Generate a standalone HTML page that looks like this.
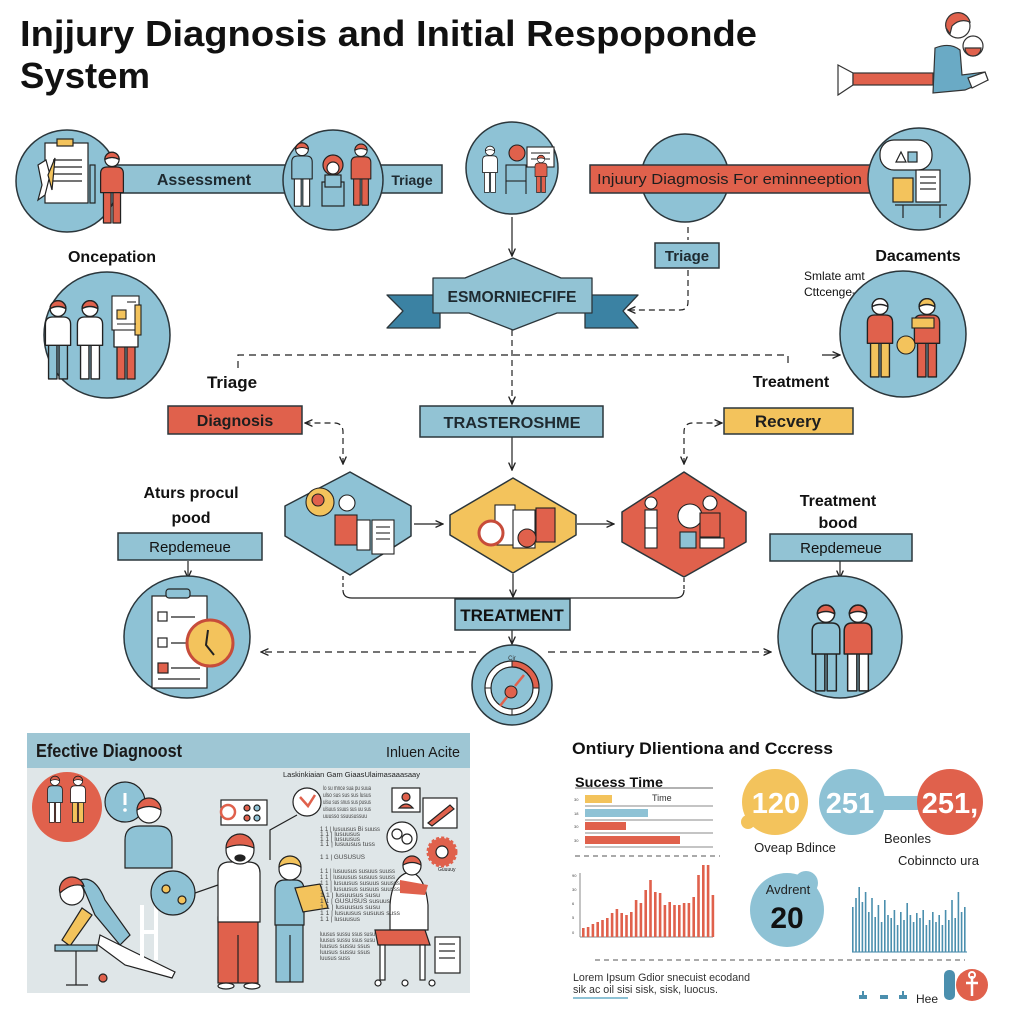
<!DOCTYPE html>
<html><head><meta charset="utf-8">
<style>
html,body{margin:0;padding:0;background:#fff}
svg{display:block}
text{font-family:"Liberation Sans",sans-serif}
.b{font-weight:bold}
.person .sh{fill:var(--shirt,#fff)}
.person .pa{fill:var(--pants,#8ec2d5)}
.person .hr{fill:var(--hair,#e0614c)}
</style></head>
<body>
<svg width="1024" height="1024" viewBox="0 0 1024 1024" xmlns="http://www.w3.org/2000/svg">
<defs>
<marker id="ah" viewBox="0 0 10 10" refX="9" refY="5" markerWidth="7" markerHeight="7" orient="auto-start-reverse"><path d="M0,1 L9,5 L0,9" fill="none" stroke="#222" stroke-width="1.6"/></marker>
<g id="person" class="person" stroke="#222" stroke-width="1.3" stroke-linejoin="round">
 <rect class="pa" x="-9" y="-36" width="8" height="35"/>
 <rect class="pa" x="1" y="-36" width="8" height="35"/>
 <path class="sh" d="M-12,-33 L-12,-53 Q-12,-60 -5,-60 L5,-60 Q12,-60 12,-53 L12,-33 Z"/>
 <circle cx="0" cy="-68" r="7.5" fill="#fff"/>
 <path class="hr" d="M-7.5,-68 A7.5,7.5 0 0 1 7.5,-68 Q0,-72 -7.5,-68Z"/>
</g>
</defs>

<!-- TITLE -->
<text x="20" y="46" font-size="36" class="b" fill="#111" textLength="737" lengthAdjust="spacingAndGlyphs">Injjury Diagnosis and Initial Respoponde</text>
<text x="20" y="88" font-size="36" class="b" fill="#111" textLength="130" lengthAdjust="spacingAndGlyphs">System</text>

<!-- top right icon -->
<g stroke="#333" stroke-width="1.2">
<path d="M838,65 L853,73 L853,85 L838,95 Z" fill="#fff"/>
<rect x="853" y="73" width="80" height="12" fill="#e0614c"/>
<path d="M935,48 Q950,42 960,50 L962,75 L985,72 L988,80 L965,90 L933,93 Z" fill="#6aaac5"/>
<circle cx="958" cy="26" r="12" fill="#fff"/>
<path d="M946,28 A12,12 0 0 1 970,22 Q960,18 952,26 L950,34 Z" fill="#e0614c"/>
<circle cx="973" cy="46" r="10" fill="#fff"/>
<path d="M965,48 A8,8 0 0 0 981,48 Z" fill="#e0614c"/>
<path d="M968,78 L985,72 L988,80 L972,88 Z" fill="#fff"/>
</g>

<!-- ROW 1 bars -->
<g stroke="#2b363b" stroke-width="1.5">
<rect x="113" y="165" width="175" height="28" fill="#92c3d4"/>
<rect x="380" y="165" width="62" height="28" fill="#92c3d4"/>
<circle cx="67" cy="181" r="51" fill="#8ec2d5"/>
<circle cx="333" cy="180" r="50" fill="#8ec2d5"/>
<circle cx="512" cy="168" r="46" fill="#8ec2d5"/>
<circle cx="685" cy="178" r="44" fill="#8ec2d5"/>
<rect x="590" y="165" width="280" height="28" fill="#e0614c"/>
<circle cx="919" cy="179" r="51" fill="#8ec2d5"/>
</g>
<text x="204" y="185" font-size="16" class="b" fill="#1e2a30" text-anchor="middle">Assessment</text>
<text x="412" y="185" font-size="14" class="b" fill="#1e2a30" text-anchor="middle">Triage</text>
<text x="597" y="184" font-size="15" fill="#1e1e1e" textLength="265" lengthAdjust="spacingAndGlyphs">Injuury Diagmosis  For eminneeption</text>

<!-- circle 1 icons -->
<g stroke="#222" stroke-width="1.2">
<rect x="45" y="143" width="43" height="60" fill="#fff"/>
<rect x="57" y="139" width="16" height="7" fill="#f3c35c"/>
<line x1="53" y1="160" x2="82" y2="160"/><line x1="53" y1="167" x2="82" y2="167"/><line x1="53" y1="174" x2="82" y2="174"/><line x1="53" y1="181" x2="82" y2="181"/>
<rect x="90" y="165" width="5" height="38" fill="#8ec2d5"/>
<path d="M38,165 L46,160 L50,175 L45,195 L38,200 L42,185 Z" fill="#fff"/>
<path d="M48,175 L55,158 L52,190 Z" fill="#f3c35c"/>
</g>
<use href="#person" transform="translate(112,224) scale(0.95)" style="--shirt:#e0614c;--pants:#e0614c"/>

<!-- circle 2 -->
<use href="#person" transform="translate(302,207) scale(0.85)" style="--shirt:#8ec2d5;--pants:#fff"/>
<g stroke="#222" stroke-width="1.2">
<rect x="322" y="182" width="22" height="24" fill="#8ec2d5"/>
<circle cx="333" cy="165" r="10" fill="#e0614c"/>
<circle cx="333" cy="168" r="6" fill="#fff"/>
<rect x="325" y="175" width="16" height="12" fill="#8ec2d5"/>
</g>
<use href="#person" transform="translate(361,206) scale(0.82)" style="--shirt:#e0614c;--pants:#e0614c"/>

<!-- circle 3 -->
<use href="#person" transform="translate(490,193) scale(0.62)" style="--shirt:#fff;--pants:#fff;--hair:#fff"/>
<g stroke="#222" stroke-width="1.1">
<circle cx="517" cy="153" r="8" fill="#e0614c"/>
<rect x="506" y="165" width="20" height="16" fill="#8ec2d5"/>
<line x1="506" y1="181" x2="506" y2="194"/><line x1="526" y1="181" x2="526" y2="194"/>
<rect x="527" y="147" width="27" height="20" fill="#fff"/>
<line x1="531" y1="153" x2="550" y2="153"/><line x1="531" y1="159" x2="550" y2="159"/>
</g>
<use href="#person" transform="translate(541,193) scale(0.5)" style="--shirt:#e0614c;--pants:#e0614c"/>

<!-- circle right (919) -->
<g stroke="#222" stroke-width="1.2">
<rect x="880" y="140" width="52" height="30" rx="14" fill="#fff"/>
<path d="M896,162 L901,152 L906,162Z" fill="#fff"/>
<rect x="908" y="152" width="9" height="10" fill="#8ec2d5"/>
<rect x="893" y="178" width="20" height="24" fill="#f3c35c"/>
<rect x="916" y="170" width="24" height="32" fill="#fff"/>
<line x1="920" y1="177" x2="936" y2="177"/><line x1="920" y1="183" x2="936" y2="183"/><line x1="920" y1="189" x2="936" y2="189"/>
<line x1="895" y1="205" x2="947" y2="205"/>
<line x1="903" y1="205" x2="903" y2="218"/><line x1="940" y1="205" x2="940" y2="218"/>
</g>

<!-- connectors top -->
<g stroke="#222" stroke-width="1.2" fill="none">
<line x1="512" y1="217" x2="512" y2="256" marker-end="url(#ah)"/>
<line x1="688" y1="227" x2="688" y2="240" stroke-dasharray="6,4"/>
<path d="M688,270 L688,302 Q688,310 680,310 L628,310" stroke-dasharray="6,4" marker-end="url(#ah)"/>
<line x1="512" y1="330" x2="512" y2="404" stroke-dasharray="6,4" marker-end="url(#ah)"/>
<path d="M238,368 L238,355 L788,355 L788,367" stroke-dasharray="7,5"/>
<line x1="822" y1="355" x2="840" y2="355" marker-end="url(#ah)"/>
<line x1="512" y1="437" x2="512" y2="470" marker-end="url(#ah)"/>
<path d="M343,464 L343,432 Q343,423 334,423 L305,423" stroke-dasharray="6,4" marker-start="url(#ah)" marker-end="url(#ah)"/>
<path d="M684,464 L684,432 Q684,423 693,423 L722,423" stroke-dasharray="6,4" marker-start="url(#ah)" marker-end="url(#ah)"/>
</g>

<!-- Triage box -->
<rect x="655" y="243" width="64" height="25" fill="#8ec2d5" stroke="#2b363b" stroke-width="1.5"/>
<text x="687" y="261" font-size="15" class="b" fill="#1e2a30" text-anchor="middle">Triage</text>

<!-- labels -->
<text x="112" y="262" font-size="16" class="b" fill="#111" text-anchor="middle">Oncepation</text>
<text x="918" y="261" font-size="16" class="b" fill="#111" text-anchor="middle">Dacaments</text>
<text x="804" y="280" font-size="12" fill="#111">Smlate amt</text>
<text x="804" y="296" font-size="12" fill="#111">Cttcenge-</text>
<text x="232" y="388" font-size="17" class="b" fill="#111" text-anchor="middle">Triage</text>
<text x="791" y="387" font-size="16" class="b" fill="#111" text-anchor="middle">Treatment</text>

<!-- Ribbon -->
<g stroke="#2b363b" stroke-width="1.3" stroke-linejoin="round">
<path d="M387,295 L440,295 L440,328 L387,328 L403,311 Z" fill="#3b82a3"/>
<path d="M585,295 L638,295 L623,311 L638,328 L585,328 Z" fill="#3b82a3"/>
<path d="M433,278 L465,278 L513,258 L561,278 L592,278 L592,313 L557,313 L513,330 L469,313 L433,313 Z" fill="#92c3d4"/>
</g>
<text x="512" y="302" font-size="16" class="b" fill="#1e2a30" text-anchor="middle" textLength="129" lengthAdjust="spacingAndGlyphs">ESMORNIECFIFE</text>

<!-- circle 107,335 -->
<circle cx="107" cy="335" r="63" fill="#8ec2d5" stroke="#2b363b" stroke-width="1.5"/>
<use href="#person" transform="translate(58,380) scale(1.05)" style="--shirt:#fff;--pants:#8ec2d5"/>
<use href="#person" transform="translate(90,380) scale(1.05)" style="--shirt:#fff;--pants:#fff"/>
<use href="#person" transform="translate(126,380) scale(1.0)" style="--shirt:#fff;--pants:#e0614c"/>
<g stroke="#222" stroke-width="1.1"><rect x="112" y="296" width="27" height="34" fill="#fff"/><rect x="135" y="305" width="6" height="30" fill="#f3c35c"/><rect x="117" y="310" width="9" height="9" fill="#f3c35c"/><line x1="127" y1="302" x2="136" y2="302"/><line x1="117" y1="324" x2="136" y2="324"/></g>

<!-- circle 903,334 -->
<circle cx="903" cy="334" r="63" fill="#8ec2d5" stroke="#2b363b" stroke-width="1.5"/>
<use href="#person" transform="translate(880,378) scale(1.05)" style="--shirt:#e0614c;--pants:#f3c35c;--hair:#fff"/>
<use href="#person" transform="translate(927,378) scale(1.05)" style="--shirt:#e0614c;--pants:#e0614c;--hair:#f3c35c"/>
<g stroke="#222" stroke-width="1.1"><circle cx="906" cy="345" r="9" fill="#f3c35c"/><rect x="912" y="318" width="22" height="10" fill="#f3c35c"/></g>

<!-- boxes row 2 -->
<g stroke="#2b363b" stroke-width="1.5">
<rect x="168" y="406" width="134" height="28" fill="#e0614c"/>
<rect x="420" y="406" width="183" height="31" fill="#92c3d4"/>
<rect x="724" y="408" width="129" height="26" fill="#f3c35c"/>
</g>
<text x="235" y="426" font-size="16" class="b" fill="#1e1e1e" text-anchor="middle">Diagnosis</text>
<text x="512" y="428" font-size="16" class="b" fill="#1e2a30" text-anchor="middle" textLength="137" lengthAdjust="spacingAndGlyphs">TRASTEROSHME</text>
<text x="788" y="427" font-size="17" class="b" fill="#1e1e1e" text-anchor="middle">Recvery</text>

<!-- hexes -->
<g stroke="#2b363b" stroke-width="1.5" stroke-linejoin="round">
<path d="M350,472 L411,506 L411,536 L350,575 L285,536 L285,506 Z" fill="#8ec2d5"/>
<path d="M513,478 L576,515 L576,535 L513,573 L450,535 L450,515 Z" fill="#f3c35c"/>
<path d="M684,472 L746,512 L746,542 L684,577 L622,542 L622,512 Z" fill="#e0614c"/>
</g>
<!-- hex icons -->
<g stroke="#222" stroke-width="1.1">
<circle cx="320" cy="502" r="14" fill="#f3c35c"/>
<circle cx="318" cy="500" r="6" fill="#e0614c"/>
<rect x="335" y="515" width="22" height="30" fill="#e0614c"/>
<circle cx="347" cy="503" r="8" fill="#fff"/>
<rect x="357" y="520" width="13" height="30" fill="#fff"/>
<rect x="372" y="520" width="22" height="34" fill="#fff"/>
<line x1="376" y1="527" x2="390" y2="527"/><line x1="376" y1="533" x2="390" y2="533"/><line x1="376" y1="539" x2="390" y2="539"/>
<rect x="495" y="505" width="20" height="40" fill="#fff"/>
<rect x="513" y="510" width="22" height="38" fill="#fff"/>
<rect x="536" y="508" width="19" height="34" fill="#e0614c"/>
<circle cx="491" cy="533" r="12" fill="#fff" stroke="#c74c3a" stroke-width="3"/>
<circle cx="527" cy="538" r="9" fill="#e0614c"/>
<rect x="645" y="510" width="12" height="18" fill="#fff"/>
<rect x="645" y="528" width="12" height="20" fill="#fff"/>
<circle cx="651" cy="503" r="6" fill="#fff"/>
<circle cx="690" cy="516" r="12" fill="#fff"/>
<rect x="680" y="532" width="16" height="16" fill="#8ec2d5"/>
<rect x="700" y="513" width="20" height="24" fill="#e0614c"/>
<circle cx="710" cy="503" r="7" fill="#fff"/>
<rect x="700" y="538" width="24" height="10" fill="#fff"/>
</g>

<g stroke="#222" stroke-width="1.2" fill="none">
<line x1="414" y1="524" x2="443" y2="524" marker-end="url(#ah)"/>
<line x1="577" y1="524" x2="614" y2="524" marker-end="url(#ah)"/>
<path d="M343,576 L343,590" stroke-dasharray="4,3"/>
<path d="M684,578 L684,590" stroke-dasharray="4,3"/>
<path d="M343,590 Q343,598 352,598 L675,598 Q684,598 684,590"/>
<line x1="513" y1="574" x2="513" y2="597" marker-end="url(#ah)"/>
<line x1="512" y1="630" x2="512" y2="644" marker-end="url(#ah)"/>
<line x1="476" y1="652" x2="261" y2="652" stroke-dasharray="7,5" marker-end="url(#ah)"/>
<line x1="548" y1="652" x2="771" y2="652" stroke-dasharray="7,5" marker-end="url(#ah)"/>
<line x1="188" y1="561" x2="188" y2="578" marker-end="url(#ah)"/>
<line x1="840" y1="561" x2="840" y2="578" marker-end="url(#ah)"/>
</g>

<!-- side labels -->
<text x="191" y="498" font-size="16" class="b" fill="#111" text-anchor="middle">Aturs procul</text>
<text x="191" y="523" font-size="16" class="b" fill="#111" text-anchor="middle">pood</text>
<text x="838" y="506" font-size="16" class="b" fill="#111" text-anchor="middle">Treatment</text>
<text x="838" y="528" font-size="16" class="b" fill="#111" text-anchor="middle">bood</text>
<g stroke="#2b363b" stroke-width="1.5">
<rect x="118" y="533" width="144" height="27" fill="#92c3d4"/>
<rect x="770" y="534" width="142" height="27" fill="#92c3d4"/>
<rect x="455" y="599" width="115" height="31" fill="#92c3d4"/>
</g>
<text x="190" y="552" font-size="15" fill="#111" text-anchor="middle">Repdemeue</text>
<text x="841" y="553" font-size="15" fill="#111" text-anchor="middle">Repdemeue</text>
<text x="512" y="621" font-size="17" class="b" fill="#111" text-anchor="middle">TREATMENT</text>

<!-- clipboard circle -->
<ellipse cx="187" cy="637" rx="63" ry="61" fill="#8ec2d5" stroke="#2b363b" stroke-width="1.5"/>
<g stroke="#222" stroke-width="1.2">
<rect x="152" y="596" width="55" height="92" fill="#fff"/>
<rect x="166" y="589" width="24" height="9" rx="3" fill="#8ec2d5"/>
<rect x="158" y="612" width="9" height="9" fill="#fff"/><line x1="171" y1="617" x2="195" y2="617"/>
<rect x="158" y="638" width="9" height="9" fill="#fff"/><line x1="171" y1="643" x2="195" y2="643"/>
<rect x="158" y="663" width="10" height="10" fill="#e0614c"/><line x1="171" y1="668" x2="200" y2="668"/><line x1="158" y1="679" x2="200" y2="679"/>
<circle cx="210" cy="643" r="23" fill="#f3c35c" stroke="#c74c3a" stroke-width="3"/>
<path d="M208,630 L206,645 L214,655" fill="none" stroke="#222" stroke-width="2"/>
</g>

<!-- people circle -->
<ellipse cx="840" cy="637" rx="62" ry="61" fill="#8ec2d5" stroke="#2b363b" stroke-width="1.5"/>
<use href="#person" transform="translate(826,692) scale(1.15)" style="--shirt:#8ec2d5;--pants:#8ec2d5"/>
<use href="#person" transform="translate(858,692) scale(1.15)" style="--shirt:#e0614c;--pants:#fff"/>

<!-- target circle -->
<circle cx="512" cy="685" r="40" fill="#8ec2d5" stroke="#2b363b" stroke-width="1.5"/>
<circle cx="512" cy="688" r="27" fill="#fff" stroke="#222" stroke-width="1.2"/>
<path d="M512,661 A27,27 0 0 1 539,688 L533,688 A21,21 0 0 0 512,667 Z" fill="#e0614c" stroke="#222" stroke-width="1"/>
<circle cx="512" cy="688" r="21" fill="#8ec2d5" stroke="#222" stroke-width="1.2"/>
<line x1="485" y1="688" x2="491" y2="688" stroke="#222"/><line x1="512" y1="709" x2="512" y2="715" stroke="#222"/>
<circle cx="511" cy="692" r="6" fill="#e0614c" stroke="#222"/>
<path d="M515,686 L524,675 M507,697 L500,706" stroke="#e0614c" stroke-width="2.5"/>
<text x="512" y="660" font-size="6" fill="#333" text-anchor="middle">Cir</text>

<!-- BOTTOM LEFT PANEL -->
<rect x="27" y="733" width="443" height="260" fill="#dfe6e8"/>
<rect x="27" y="733" width="443" height="35" fill="#9ec6d4"/>
<text x="36" y="757" font-size="18" class="b" fill="#1a1a1a" textLength="146" lengthAdjust="spacingAndGlyphs">Efective Diagnoost</text>
<text x="386" y="757" font-size="15" fill="#1a1a1a" textLength="74" lengthAdjust="spacingAndGlyphs">Inluen Acite</text>

<g stroke="#222" stroke-width="1.2">
<circle cx="67" cy="807" r="35" fill="#e0614c" stroke="none"/>
<use href="#person" transform="translate(55,823) scale(0.62)" style="--shirt:#8ec2d5;--pants:#fff"/>
<use href="#person" transform="translate(78,823) scale(0.62)" style="--shirt:#fff;--pants:#f3c35c"/>
<circle cx="125" cy="802" r="20" fill="#8ec2d5"/>
<line x1="125" y1="793" x2="125" y2="805" stroke="#fff" stroke-width="3"/><circle cx="125" cy="810" r="1.8" fill="#fff" stroke="none"/>
<path d="M125,868 L125,840 Q125,826 140,826 L158,826 Q172,826 172,840 L172,868 Z" fill="#8ec2d5"/>
<circle cx="149" cy="811" r="12" fill="#fff"/>
<path d="M137,810 A12,12 0 0 1 161,810 Q149,803 137,810Z" fill="#e0614c"/>
<path d="M80,880 Q95,875 105,900 L130,935 L120,945 L95,915 Z" fill="#8ec2d5"/>
<circle cx="72" cy="893" r="12" fill="#fff"/>
<path d="M60,893 A12,12 0 0 1 84,886 Q72,882 60,893Z" fill="#e0614c"/>
<path d="M82,908 L62,940 L70,946 L92,915 Z" fill="#f3c35c"/>
<rect x="55" y="945" width="42" height="6" fill="#8ec2d5"/>
<line x1="76" y1="951" x2="76" y2="985"/><line x1="66" y1="985" x2="88" y2="985"/>
<path d="M100,935 L130,950 L175,972 L172,978 L125,965 L98,945 Z" fill="#fff"/>
<circle cx="103" cy="978" r="4" fill="#e0614c"/>
<rect x="140" y="905" width="4" height="55" fill="#fff" stroke="none"/><rect x="154" y="905" width="4" height="55" fill="#fff" stroke="none"/><rect x="140" y="930" width="18" height="4" fill="#fff" stroke="none"/>
<circle cx="173" cy="893" r="22" fill="#8ec2d5"/>
<circle cx="166" cy="889" r="4" fill="#f3c35c"/><circle cx="182" cy="900" r="4" fill="#f3c35c"/>
<line x1="195" y1="893" x2="218" y2="885"/>
<rect x="218" y="917" width="40" height="66" fill="#e0614c"/>
<line x1="238" y1="935" x2="238" y2="983"/>
<path d="M218,873 Q218,862 230,862 L248,862 Q260,862 260,873 L260,922 L218,922 Z" fill="#fff"/>
<circle cx="240" cy="850" r="14" fill="#fff"/>
<path d="M226,848 A14,14 0 0 1 254,848 Q240,842 226,848Z" fill="#e0614c"/>
<ellipse cx="240" cy="858" rx="5" ry="3" fill="#222"/>
<ellipse cx="226" cy="986" rx="8" ry="3" fill="#fff"/><ellipse cx="252" cy="986" rx="8" ry="3" fill="#fff"/>
<rect x="276" y="922" width="27" height="60" fill="#8ec2d5"/>
<line x1="290" y1="935" x2="290" y2="982"/>
<path d="M275,890 Q275,880 285,880 L295,880 Q304,880 304,890 L304,925 L275,925 Z" fill="#8ec2d5"/>
<circle cx="290" cy="869" r="11" fill="#fff"/>
<path d="M279,867 A11,11 0 0 1 301,867 Q290,860 279,867Z" fill="#f3c35c"/>
<path d="M295,888 L320,884 L328,908 L303,912 Z" fill="#f3c35c"/>
<rect x="221" y="800" width="46" height="25" fill="#fff"/>
<circle cx="228" cy="812" r="7" fill="#fff" stroke="#e0614c" stroke-width="2.5"/>
<circle cx="247" cy="808" r="3" fill="#e0614c"/><circle cx="257" cy="808" r="3" fill="#8ec2d5"/>
<circle cx="247" cy="818" r="3" fill="#e0614c"/><circle cx="257" cy="818" r="3" fill="#8ec2d5"/>
<circle cx="307" cy="802" r="14" fill="#fff"/>
<path d="M300,797 L308,806 L315,795" stroke="#e0614c" stroke-width="2.5" fill="none"/>
<path d="M297,815 L270,830 L270,860" fill="none"/>
<rect x="392" y="788" width="28" height="24" fill="#fff"/>
<circle cx="406" cy="797" r="4" fill="#e0614c"/><path d="M399,808 Q406,800 413,808Z" fill="#e0614c"/>
<rect x="423" y="798" width="34" height="30" fill="#fff"/>
<path d="M428,823 L450,805 L454,809 L432,826 Z" fill="#e0614c"/>
<circle cx="402" cy="837" r="15" fill="#fff"/>
<circle cx="397" cy="834" r="5" fill="#fff"/><circle cx="407" cy="839" r="5" fill="#fff"/>
<circle cx="442" cy="852" r="14" fill="#e0614c" stroke="#e0614c" stroke-width="3" stroke-dasharray="3,2"/>
<circle cx="442" cy="852" r="6" fill="#fff"/>
<path d="M390,905 Q392,875 410,872 Q425,875 428,905 L428,930 L390,930 Z" fill="#fff"/>
<path d="M400,880 L428,885 L425,895 L400,893 Z" fill="#e0614c" stroke="none"/>
<circle cx="412" cy="866" r="9" fill="#fff"/>
<path d="M403,865 A9,9 0 0 1 421,865 Q412,860 403,865Z" fill="#e0614c"/>
<path d="M375,930 L425,930 L430,945 L378,945 Z" fill="#e0614c"/>
<rect x="380" y="945" width="5" height="35" fill="#fff"/><rect x="420" y="945" width="5" height="35" fill="#fff"/>
<circle cx="378" cy="983" r="3" fill="#fff"/><circle cx="405" cy="983" r="3" fill="#fff"/><circle cx="432" cy="983" r="3" fill="#fff"/>
<rect x="435" y="937" width="25" height="36" fill="#fff"/>
<line x1="439" y1="944" x2="455" y2="944"/><line x1="439" y1="951" x2="455" y2="951"/><line x1="439" y1="958" x2="455" y2="958"/>
</g>
<!-- panel small text -->
<g font-size="6" fill="#444">
<text x="283" y="777" font-size="7" fill="#222" textLength="137" lengthAdjust="spacingAndGlyphs">Laskinkiaian Gam GiaasUlaimasaaasaay</text>
<text x="323" y="790" textLength="48" lengthAdjust="spacingAndGlyphs">lo su mnce sua pu suua</text>
<text x="323" y="797" textLength="48" lengthAdjust="spacingAndGlyphs">ulso sus sus sus lusus</text>
<text x="323" y="804" textLength="48" lengthAdjust="spacingAndGlyphs">ulsu sus snus sus pusus</text>
<text x="323" y="811" textLength="48" lengthAdjust="spacingAndGlyphs">ulsuus ssuus sus uu sus</text>
<text x="323" y="818" textLength="44" lengthAdjust="spacingAndGlyphs">uuusso ssuusussuu</text>
<text x="320" y="831" textLength="60" lengthAdjust="spacingAndGlyphs">1  1  | lusuusus  Bi suuss</text>
<text x="320" y="836" textLength="40" lengthAdjust="spacingAndGlyphs">1  1  | lusuusus</text>
<text x="320" y="841" textLength="40" lengthAdjust="spacingAndGlyphs">1  1  | lusuusus</text>
<text x="320" y="846" textLength="55" lengthAdjust="spacingAndGlyphs">1  1  | lusuusus   tuss</text>
<text x="320" y="859" textLength="45" lengthAdjust="spacingAndGlyphs">1  1  | GUSUSUS</text>
<text x="320" y="873" textLength="75" lengthAdjust="spacingAndGlyphs">1  1  | lusuusus susuus suuss</text>
<text x="320" y="879" textLength="75" lengthAdjust="spacingAndGlyphs">1  1  | lusuusus susuus suuss</text>
<text x="320" y="885" textLength="80" lengthAdjust="spacingAndGlyphs">1  1  | lusuusus susuus suusss</text>
<text x="320" y="891" textLength="80" lengthAdjust="spacingAndGlyphs">1  1  | lusuusus susuus suusss</text>
<text x="320" y="897" textLength="60" lengthAdjust="spacingAndGlyphs">1  1  | lusuusus susu</text>
<text x="320" y="903" textLength="70" lengthAdjust="spacingAndGlyphs">1  1  | GUSUSUS susuus</text>
<text x="320" y="909" textLength="60" lengthAdjust="spacingAndGlyphs">1  1  | lusuusus susu</text>
<text x="320" y="915" textLength="80" lengthAdjust="spacingAndGlyphs">1  1  | lusuusus susuus  suss</text>
<text x="320" y="921" textLength="40" lengthAdjust="spacingAndGlyphs">1  1  | lusuusus</text>
<text x="320" y="936" textLength="55" lengthAdjust="spacingAndGlyphs">luusus sussu ssus susu</text>
<text x="320" y="942" textLength="55" lengthAdjust="spacingAndGlyphs">luusus sussu ssus susu</text>
<text x="320" y="948" textLength="50" lengthAdjust="spacingAndGlyphs">luusus sussu ssus</text>
<text x="320" y="954" textLength="50" lengthAdjust="spacingAndGlyphs">luusus sussu ssus</text>
<text x="320" y="960" textLength="30" lengthAdjust="spacingAndGlyphs">luusus suss</text>
<text x="438" y="871" font-size="5" fill="#222">Guuuuy</text>
</g>

<!-- BOTTOM RIGHT -->
<text x="572" y="754" font-size="17" class="b" fill="#111" textLength="261" lengthAdjust="spacingAndGlyphs">Ontiury Dlientiona and Cccress</text>
<text x="575" y="787" font-size="14" class="b" fill="#111" textLength="88" lengthAdjust="spacingAndGlyphs">Sucess Time</text>
<line x1="575" y1="788" x2="713" y2="788" stroke="#666" stroke-width="1"/>
<rect x="585" y="795" width="27" height="8" fill="#f3c35c"/>
<text x="652" y="801" font-size="9" fill="#333">Time</text>
<line x1="585" y1="806" x2="713" y2="806" stroke="#888"/>
<rect x="585" y="809" width="63" height="8" fill="#8ec2d5"/>
<line x1="585" y1="820" x2="713" y2="820" stroke="#888"/>
<rect x="585" y="822" width="41" height="8" fill="#e0614c"/>
<line x1="585" y1="833" x2="713" y2="833" stroke="#888"/>
<rect x="585" y="836" width="95" height="8" fill="#e0614c"/>
<line x1="585" y1="847" x2="713" y2="847" stroke="#888"/>
<g font-size="4" fill="#444"><text x="574" y="801">30</text><text x="574" y="815">18</text><text x="574" y="828">30</text><text x="574" y="842">30</text></g>
<line x1="575" y1="856" x2="720" y2="856" stroke="#555" stroke-width="1" stroke-dasharray="5,4"/>

<!-- red bar chart -->
<line x1="580" y1="873" x2="580" y2="937" stroke="#888"/>
<line x1="580" y1="937" x2="713" y2="937" stroke="#888"/>
<g font-size="4" fill="#444"><text x="572" y="877">90</text><text x="572" y="891">30</text><text x="572" y="905">6</text><text x="572" y="919">5</text><text x="572" y="934">0</text></g>
<g fill="#e0614c">
<rect x="582" y="928" width="2.6" height="9"/><rect x="586.8" y="927" width="2.6" height="10"/><rect x="591.6" y="924" width="2.6" height="13"/><rect x="596.4" y="922" width="2.6" height="15"/><rect x="601.2" y="920" width="2.6" height="17"/><rect x="606" y="918" width="2.6" height="19"/><rect x="610.8" y="913" width="2.6" height="24"/><rect x="615.6" y="909" width="2.6" height="28"/><rect x="620.4" y="913" width="2.6" height="24"/><rect x="625.2" y="915" width="2.6" height="22"/><rect x="630" y="912" width="2.6" height="25"/><rect x="634.8" y="900" width="2.6" height="37"/><rect x="639.6" y="903" width="2.6" height="34"/><rect x="644.4" y="890" width="2.6" height="47"/><rect x="649.2" y="880" width="2.6" height="57"/><rect x="654" y="892" width="2.6" height="45"/><rect x="658.8" y="893" width="2.6" height="44"/><rect x="663.6" y="905" width="2.6" height="32"/><rect x="668.4" y="902" width="2.6" height="35"/><rect x="673.2" y="905" width="2.6" height="32"/><rect x="678" y="905" width="2.6" height="32"/><rect x="682.8" y="903" width="2.6" height="34"/><rect x="687.6" y="903" width="2.6" height="34"/><rect x="692.4" y="897" width="2.6" height="40"/><rect x="697.2" y="875" width="2.6" height="62"/><rect x="702" y="865" width="2.6" height="72"/><rect x="706.8" y="865" width="2.6" height="72"/><rect x="711.6" y="895" width="2.6" height="42"/>
</g>

<!-- stat circles -->
<rect x="862" y="796" width="70" height="14" fill="#8ec2d5"/>
<circle cx="775" cy="802" r="33" fill="#f3c35c"/>
<circle cx="748" cy="822" r="7" fill="#f3c35c"/>
<circle cx="852" cy="802" r="33" fill="#8ec2d5"/>
<circle cx="950" cy="802" r="33" fill="#e0614c"/>
<text x="776" y="813" font-size="29" class="b" fill="#fff" text-anchor="middle">120</text>
<text x="850" y="813" font-size="29" class="b" fill="#fff" text-anchor="middle">251</text>
<text x="950" y="813" font-size="29" class="b" fill="#fff" text-anchor="middle">251,</text>
<text x="795" y="852" font-size="13" fill="#222" text-anchor="middle">Oveap Bdince</text>
<text x="884" y="843" font-size="13" fill="#222">Beonles</text>
<text x="898" y="865" font-size="13" fill="#222">Cobinncto ura</text>

<circle cx="787" cy="910" r="37" fill="#8ec2d5"/>
<circle cx="806" cy="883" r="12" fill="#8ec2d5"/>
<text x="788" y="894" font-size="13" fill="#222" text-anchor="middle">Avdrent</text>
<text x="787" y="928" font-size="30" class="b" fill="#111" text-anchor="middle">20</text>

<!-- blue bar chart -->
<line x1="852" y1="952" x2="967" y2="952" stroke="#3b82a3"/>
<g fill="#4b8fae">
<rect x="852" y="907" width="1.6" height="45"/><rect x="855.2" y="898" width="1.6" height="54"/><rect x="858.4" y="887" width="1.6" height="65"/><rect x="861.6" y="902" width="1.6" height="50"/><rect x="864.8" y="892" width="1.6" height="60"/><rect x="868" y="912" width="1.6" height="40"/><rect x="871.2" y="898" width="1.6" height="54"/><rect x="874.4" y="917" width="1.6" height="35"/><rect x="877.6" y="905" width="1.6" height="47"/><rect x="880.8" y="922" width="1.6" height="30"/><rect x="884" y="900" width="1.6" height="52"/><rect x="887.2" y="915" width="1.6" height="37"/><rect x="890.4" y="918" width="1.6" height="34"/><rect x="893.6" y="910" width="1.6" height="42"/><rect x="896.8" y="925" width="1.6" height="27"/><rect x="900" y="912" width="1.6" height="40"/><rect x="903.2" y="920" width="1.6" height="32"/><rect x="906.4" y="903" width="1.6" height="49"/><rect x="909.6" y="915" width="1.6" height="37"/><rect x="912.8" y="922" width="1.6" height="30"/><rect x="916" y="913" width="1.6" height="39"/><rect x="919.2" y="918" width="1.6" height="34"/><rect x="922.4" y="910" width="1.6" height="42"/><rect x="925.6" y="925" width="1.6" height="27"/><rect x="928.8" y="920" width="1.6" height="32"/><rect x="932" y="912" width="1.6" height="40"/><rect x="935.2" y="922" width="1.6" height="30"/><rect x="938.4" y="915" width="1.6" height="37"/><rect x="941.6" y="925" width="1.6" height="27"/><rect x="944.8" y="910" width="1.6" height="42"/><rect x="948" y="920" width="1.6" height="32"/><rect x="951.2" y="900" width="1.6" height="52"/><rect x="954.4" y="918" width="1.6" height="34"/><rect x="957.6" y="892" width="1.6" height="60"/><rect x="960.8" y="912" width="1.6" height="40"/><rect x="964" y="907" width="1.6" height="45"/>
</g>
<line x1="595" y1="960" x2="965" y2="960" stroke="#555" stroke-width="1" stroke-dasharray="5,4"/>

<text x="573" y="981" font-size="11" fill="#333" textLength="177" lengthAdjust="spacingAndGlyphs">Lorem  Ipsum  Gdior  snecuist  ecodand</text>
<text x="573" y="993" font-size="11" fill="#333" textLength="145" lengthAdjust="spacingAndGlyphs">sik ac oil sisi sisk, sisk, luocus.</text>
<rect x="573" y="997" width="55" height="2" fill="#8ec2d5"/>

<g fill="#4b8fae"><rect x="859" y="995" width="8" height="4"/><rect x="862" y="991" width="2" height="4"/><rect x="880" y="995" width="8" height="4"/><rect x="899" y="995" width="8" height="4"/><rect x="902" y="991" width="2" height="4"/></g>
<text x="916" y="1003" font-size="12" fill="#222">Hee</text>
<rect x="944" y="970" width="11" height="30" rx="5" fill="#4b8fae"/>
<circle cx="972" cy="985" r="16" fill="#e0614c"/>
<path d="M972,976 L972,996 M966,983 L978,983" stroke="#fff" stroke-width="2.5"/>
<circle cx="972" cy="975" r="3" fill="none" stroke="#fff" stroke-width="2"/>
</svg>
</body></html>
